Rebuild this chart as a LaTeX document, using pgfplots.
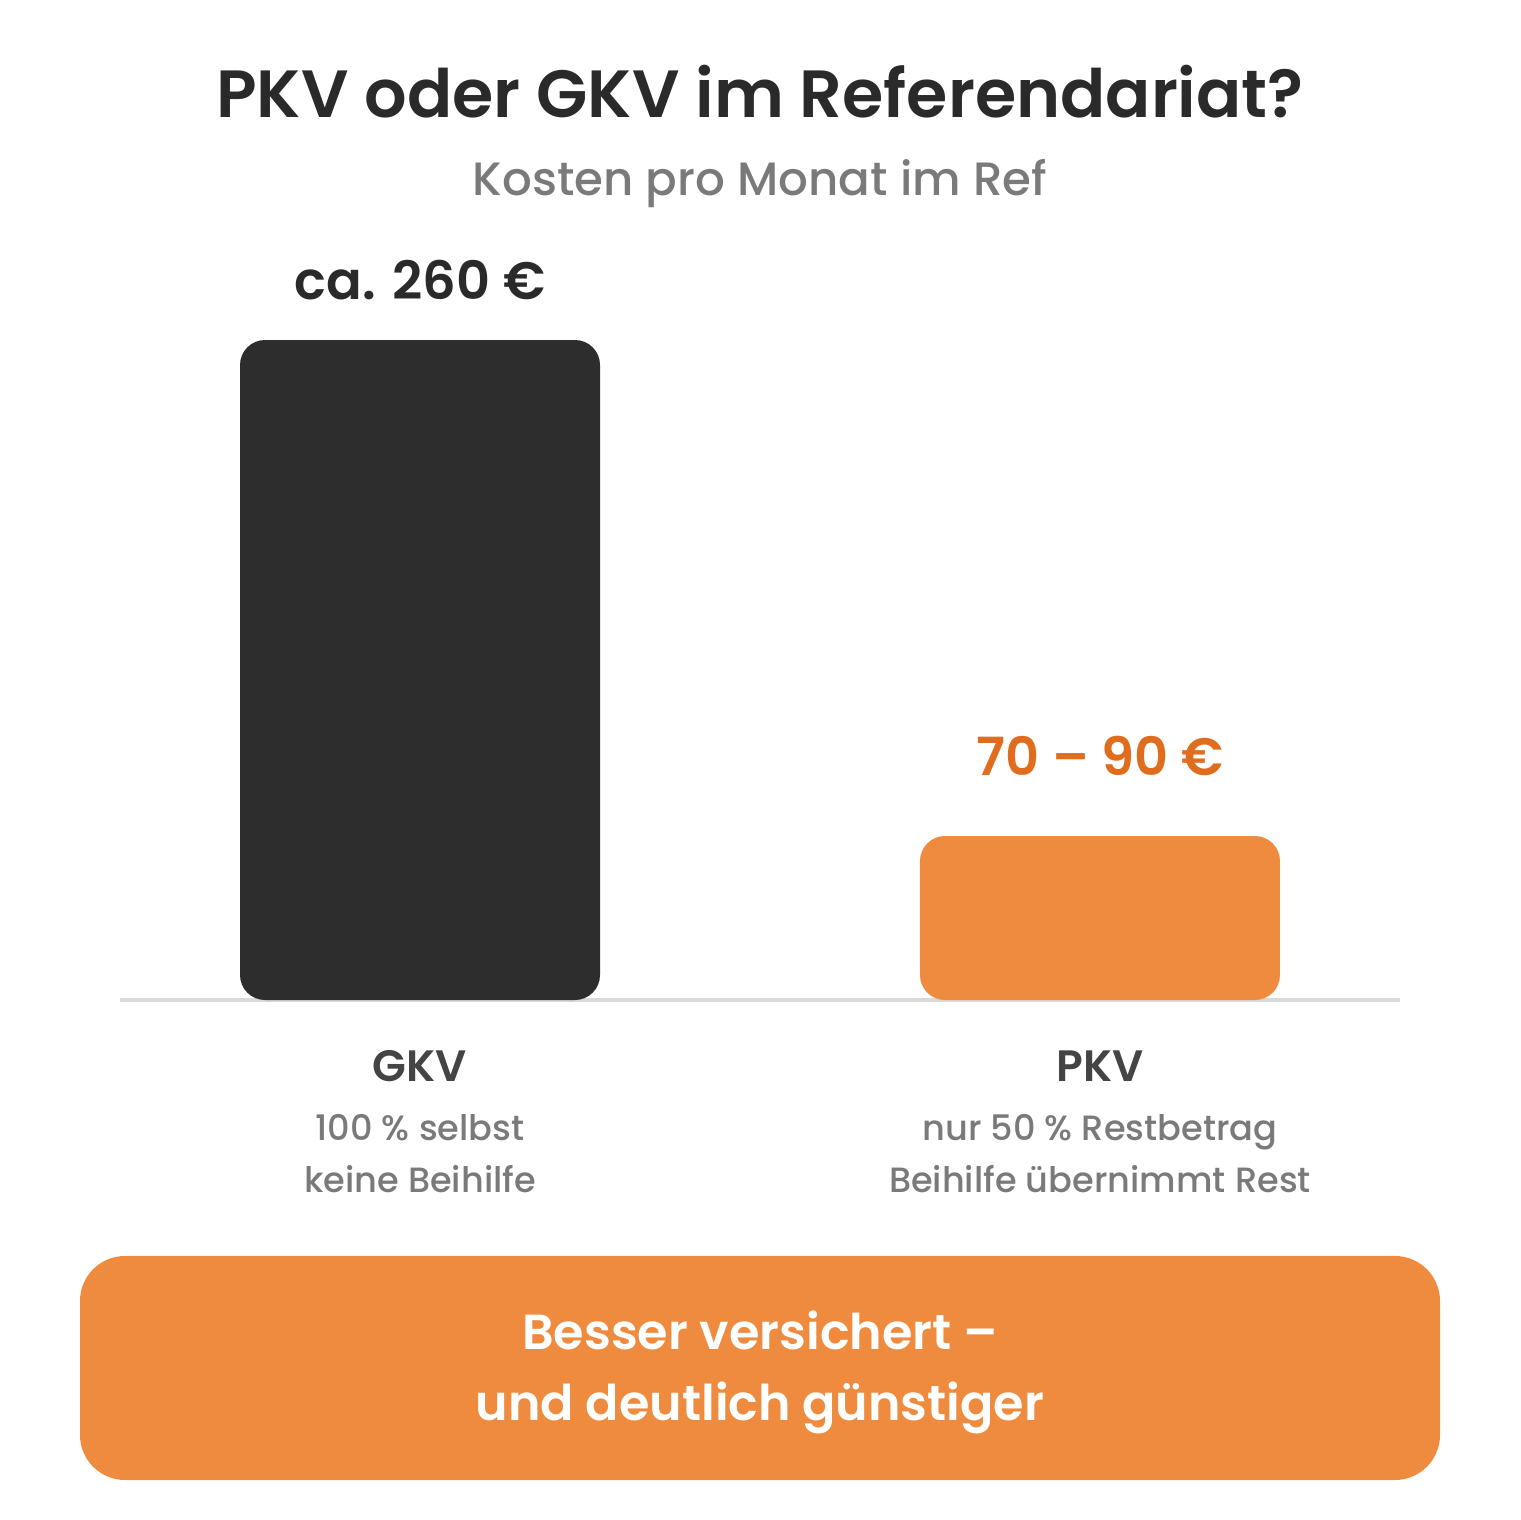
\documentclass[border=0pt]{standalone}
\usepackage{pgfplots}
\pgfplotsset{compat=1.18}
\usepackage{fontspec}
\setmainfont{Poppins}[BoldFont={Poppins SemiBold}]
\newfontfamily\pmed{Poppins Medium}
\definecolor{darkbar}{HTML}{2D2D2D}
\definecolor{orangebar}{HTML}{EF8B3E}
\definecolor{orangetext}{HTML}{E06C1E}
\definecolor{titlec}{HTML}{2A2A2A}
\definecolor{subc}{HTML}{7A7A7A}
\definecolor{catc}{HTML}{444444}
\definecolor{basec}{HTML}{D9D9D9}
\begin{document}
\begin{tikzpicture}[x=1cm,y=1cm]
\path[use as bounding box] (0,0) rectangle (15.2,15.2);
\node[font=\bfseries\fontsize{19}{23}\selectfont, text=titlec] at (7.6,14.28) {PKV oder GKV im Referendariat?};
\node[font=\pmed\fontsize{13.3}{16}\selectfont, text=subc] at (7.6,13.36) {Kosten pro Monat im Ref};
\begin{axis}[
  at={(1.2cm,5.2cm)}, anchor=south west,
  scale only axis, width=12.8cm, height=6.6cm,
  xmin=-0.4412, xmax=1.4412, ymin=0, ymax=260,
  axis y line=none, axis x line=bottom,
  x axis line style={draw=basec, line width=0.4mm, -},
  xtick={0,1}, major tick length=0pt,
  xticklabels={
    {{\normalfont\bfseries\fontsize{12.5}{15}\selectfont\color{catc}GKV}\\[2pt]100 \% selbst\\keine Beihilfe},
    {{\normalfont\bfseries\fontsize{12.5}{15}\selectfont\color{catc}PKV}\\[2pt]nur 50 \% Restbetrag\\Beihilfe übernimmt Rest}},
  xticklabel style={align=center, anchor=north, yshift=-0.38cm, text=subc, font=\pmed\fontsize{10}{14.8}\selectfont},
  ybar, bar width=3.6cm, bar shift=0pt, clip=false,
]
\addplot[fill=darkbar, draw=none, rounded corners=0.25cm,
  nodes near coords={ca. 260 €},
  every node near coord/.append style={anchor=center, yshift=0.6cm, text=titlec, font=\bfseries\fontsize{15}{18}\selectfont}]
  coordinates {(0,260)};
\addplot[fill=orangebar, draw=none, rounded corners=0.25cm,
  nodes near coords={70 – 90 €},
  every node near coord/.append style={anchor=center, yshift=0.8cm, text=orangetext, font=\bfseries\fontsize{15}{18}\selectfont}]
  coordinates {(1,64.6)};
\end{axis}
\fill[orangebar, rounded corners=0.45cm] (0.8,0.4) rectangle (14.4,2.64);
\node[font=\bfseries\fontsize{14}{17}\selectfont, text=white] at (7.6,1.90) {Besser versichert –};
\node[font=\bfseries\fontsize{14}{17}\selectfont, text=white] at (7.6,1.12) {und deutlich günstiger};
\end{tikzpicture}
\end{document}
